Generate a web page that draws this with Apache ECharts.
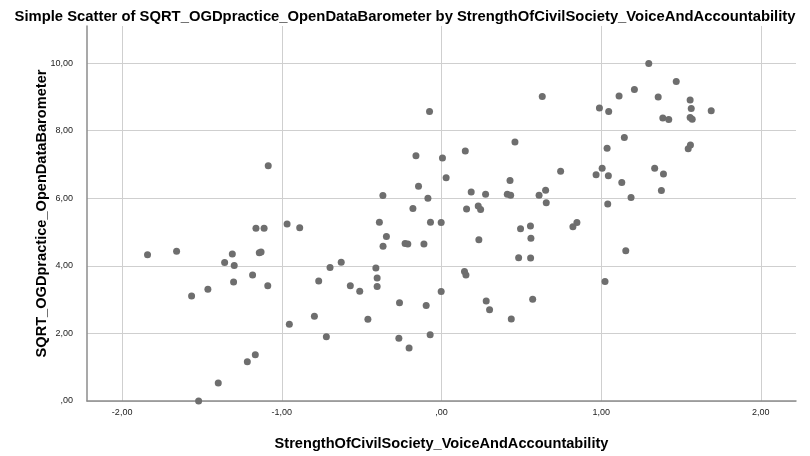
<!DOCTYPE html>
<html><head><meta charset="utf-8">
<script src="https://cdn.jsdelivr.net/npm/echarts@6/dist/echarts.min.js"></script>
<style>html,body{margin:0;padding:0;background:#fff}#c{width:810px;height:456px}</style>
</head><body><div id="c"></div>
<script>
var titleText = 'Simple Scatter of SQRT_OGDpractice_OpenDataBarometer by StrengthOfCivilSociety_VoiceAndAccountability';
var xName = 'StrengthOfCivilSociety_VoiceAndAccountability';
var yName = 'SQRT_OGDpractice_OpenDataBarometer';
var xTickValues = [-2, -1, 0, 1, 2];
var xTickLabels = ['-2,00', '-1,00', ',00', '1,00', '2,00'];
var yTickValues = [0, 2, 4, 6, 8, 10];
var yTickLabels = [',00', '2,00', '4,00', '6,00', '8,00', '10,00'];
var voiceAccountability = [
 -1.085,-1.162,-1.111,-0.967,-0.888,-1.841,-1.659,-1.310,-1.358,-1.298,
 -1.141,-1.130,-1.183,-1.302,-1.088,-1.463,-1.565,-0.698,-0.769,-0.628,
 -0.796,-0.953,-0.721,-1.166,-1.216,-1.398,-1.521,
 -0.075,0.631,0.460,-0.160,0.006,0.149,0.746,0.029,-0.144,0.429,
 -0.367,-0.085,0.186,0.276,0.412,0.433,0.611,0.652,0.656,-0.179,
 0.157,0.230,0.245,-0.389,-0.069,-0.002,0.495,0.557,0.848,0.823,
 -0.345,-0.366,-0.228,-0.211,-0.110,0.234,0.560,0.483,0.558,-0.411,
 -0.403,-0.403,-0.571,-0.512,0.144,0.153,-0.002,-0.263,-0.096,0.280,
 0.301,0.571,-0.461,0.437,-0.267,-0.071,-0.203,
 1.298,1.470,1.208,1.112,1.357,1.557,1.564,1.689,0.989,1.047,
 1.386,1.423,1.557,1.570,1.145,1.037,1.545,1.559,1.006,0.968,
 1.045,1.335,1.390,1.129,1.377,1.187,1.041,1.154,1.024
];
var sqrtOGD = [
 6.96,5.11,5.11,5.24,5.13,4.33,4.43,4.35,4.10,4.01,
 4.39,4.41,3.73,3.52,3.41,3.31,3.11,3.95,3.55,4.11,
 2.51,2.27,1.90,1.37,1.16,0.53,0.00,
 8.57,9.01,7.67,7.26,7.19,7.40,6.80,6.61,6.36,6.53,
 6.08,6.00,6.19,6.12,6.12,6.09,6.09,6.24,5.87,5.70,
 5.68,5.77,5.67,5.29,5.29,5.28,5.10,5.18,5.28,5.16,
 4.87,4.58,4.66,4.65,4.65,4.77,4.82,4.24,4.23,3.94,
 3.64,3.39,3.41,3.25,3.83,3.73,3.24,2.91,2.83,2.96,
 2.70,3.01,2.42,2.43,1.86,1.96,1.57,
 9.99,9.46,9.22,9.03,9.00,8.91,8.66,8.59,8.67,8.57,
 8.38,8.33,8.39,8.34,7.80,7.48,7.47,7.58,6.89,6.70,
 6.67,6.89,6.72,6.47,6.23,6.02,5.83,4.45,3.54
];
var points = voiceAccountability.map(function (x, i) { return [x, sqrtOGD[i]]; });
function lab(vals, labs) { return function (v) { var i = vals.indexOf(Math.round(v * 100) / 100); return i >= 0 ? labs[i] : ''; }; }
var font = 'Arial, "Liberation Sans", sans-serif';
var chart = echarts.init(document.getElementById('c'), null, { renderer: 'canvas' });
chart.setOption({
  animation: false,
  backgroundColor: '#ffffff',
  title: { text: titleText, left: 'center', top: 4,
    textStyle: { fontFamily: font, fontSize: 14.8, fontWeight: 'bold', color: '#000' } },
  grid: { left: 87, right: 14, top: 26, bottom: 51.5, containLabel: false },
  xAxis: {
    type: 'value', min: -2.22, max: 2.22,
    name: xName, nameLocation: 'middle', nameGap: 35, nameMoveOverlap: false,
    nameTextStyle: { fontFamily: font, fontSize: 14.6, fontWeight: 'bold', color: '#000' },
    axisLine: { show: true, onZero: false, lineStyle: { color: '#8c8c8c', width: 1.5 } },
    axisTick: { show: false, customValues: xTickValues },
    axisLabel: { customValues: xTickValues, formatter: lab(xTickValues, xTickLabels), margin: 7,
      fontFamily: font, fontSize: 9, color: '#222' },
    splitLine: { show: true, lineStyle: { color: '#cfcfcf', width: 1 } }
  },
  yAxis: {
    type: 'value', min: 0, max: 11.1,
    name: yName, nameLocation: 'middle', nameGap: 38, nameRotate: 90, nameMoveOverlap: false,
    nameTextStyle: { fontFamily: font, fontSize: 14.6, fontWeight: 'bold', color: '#000' },
    axisLine: { show: true, onZero: false, lineStyle: { color: '#8c8c8c', width: 1.5 } },
    axisTick: { show: false, customValues: yTickValues },
    axisLabel: { customValues: yTickValues, formatter: lab(yTickValues, yTickLabels), margin: 14,
      fontFamily: font, fontSize: 9, color: '#222' },
    splitLine: { show: true, lineStyle: { color: '#cfcfcf', width: 1 } }
  },
  series: [{
    type: 'scatter', data: points, symbol: 'circle', symbolSize: 7,
    itemStyle: { color: '#6e6e6e', opacity: 1 }
  }]
});
</script></body></html>
